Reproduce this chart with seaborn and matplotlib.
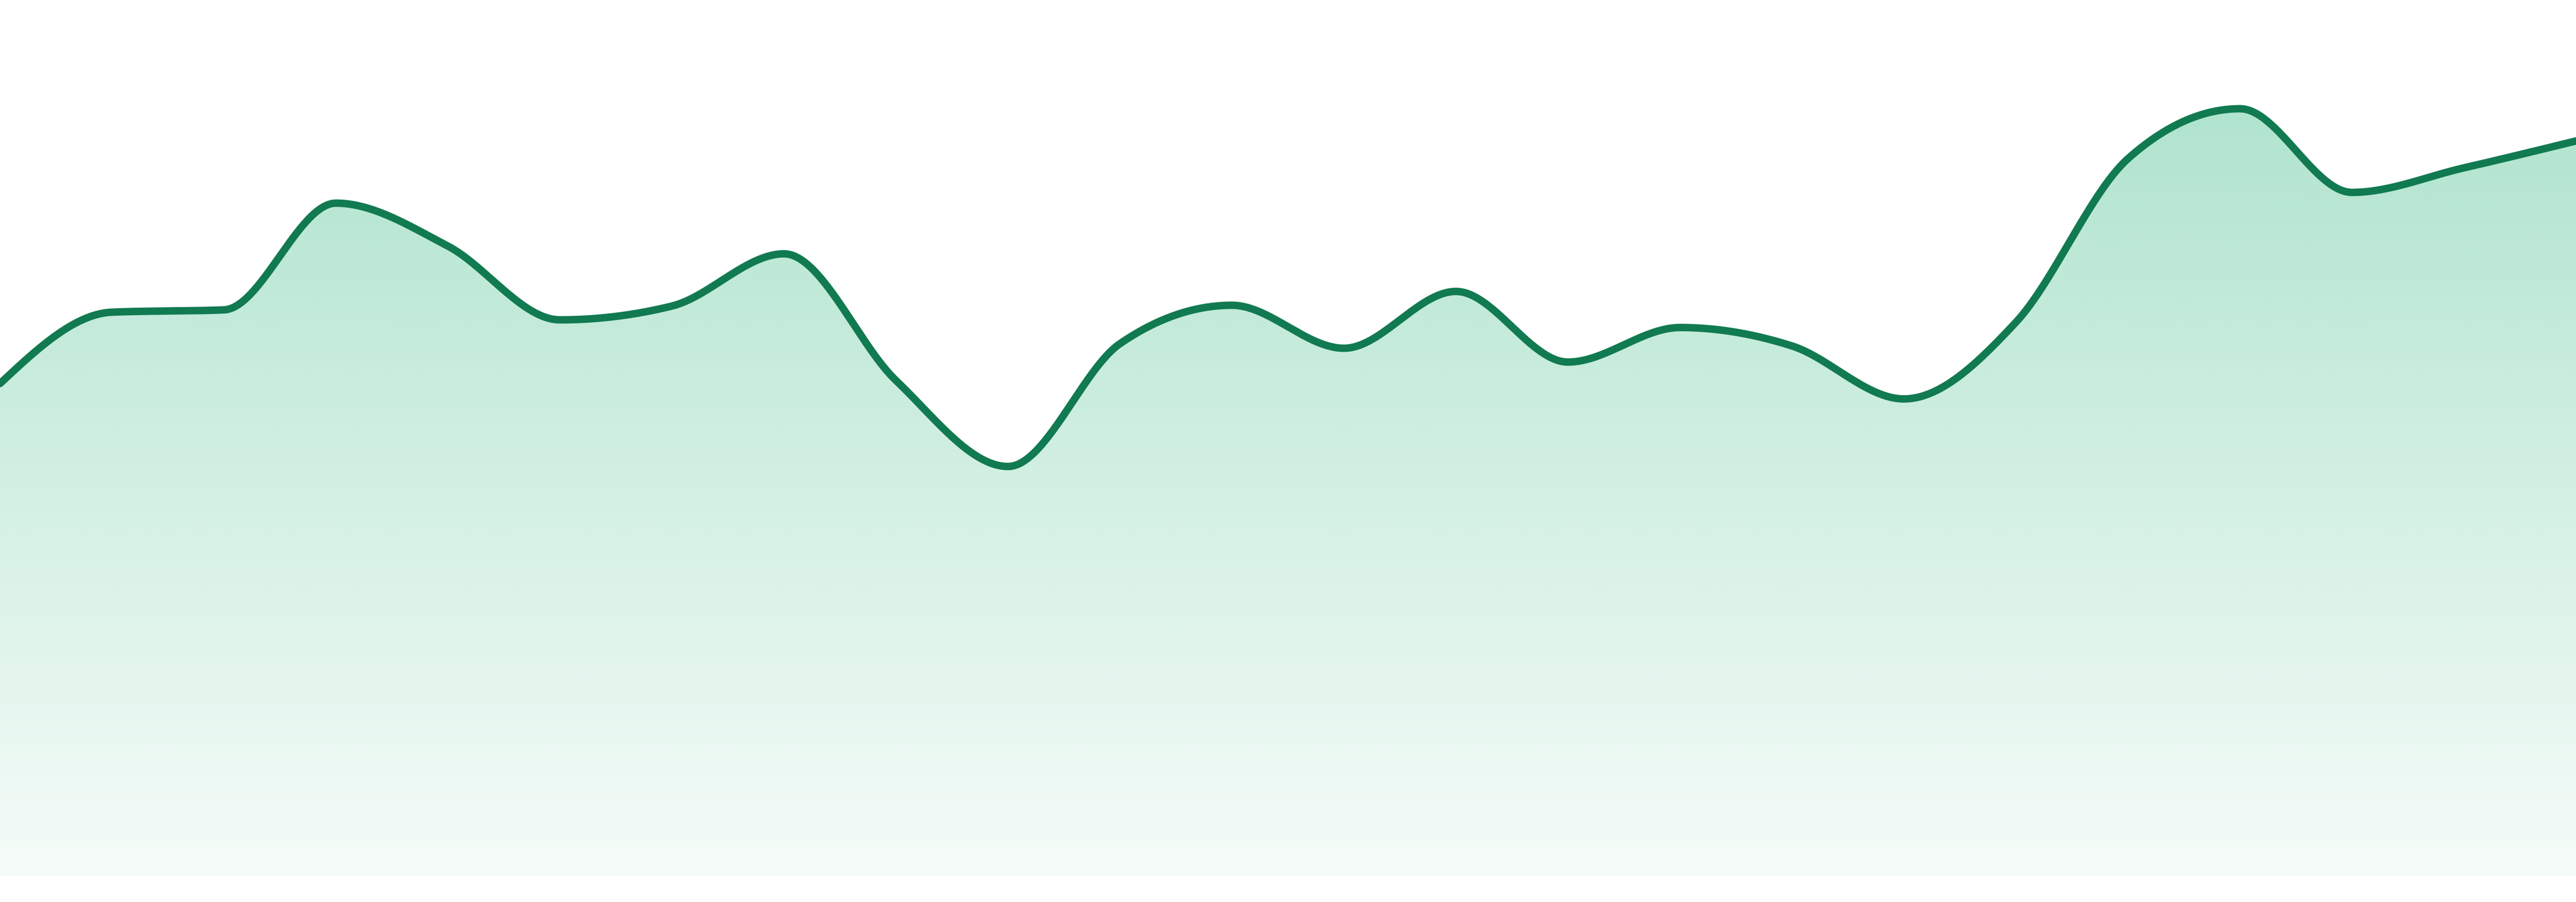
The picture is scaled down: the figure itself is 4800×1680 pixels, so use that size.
import numpy as np
import pandas as pd
import matplotlib
matplotlib.use("Agg")
import matplotlib.pyplot as plt
from matplotlib.colors import to_rgb
import seaborn as sns

# ---- data ----
periods = list(range(24))
values = [64.1, 73.4, 73.7, 87.6, 82.0, 72.4, 74.2, 81.0, 64.5, 53.3, 69.3, 74.3,
          68.7, 76.1, 66.9, 71.4, 69.0, 62.1, 72.1, 93.4, 99.9, 89.0, 92.2, 95.7]

line_color = "#117a50"
fill_color = "#2fb87e"
y_max = 114.06


def monotone_x(xs, ys, n=60):
    """Monotone cubic interpolation (same rule as d3.curveMonotoneX)."""
    xs = np.asarray(xs, float)
    ys = np.asarray(ys, float)
    h = np.diff(xs)
    s = np.diff(ys) / h
    m = len(xs)
    t = np.zeros(m)
    for i in range(1, m - 1):
        h0, h1 = h[i - 1], h[i]
        s0, s1 = s[i - 1], s[i]
        p = (s0 * h1 + s1 * h0) / (h0 + h1)
        t[i] = (np.sign(s0) + np.sign(s1)) * min(abs(s0), abs(s1), 0.5 * abs(p))
    t[0] = (3 * s[0] - t[1]) / 2
    t[-1] = (3 * s[-1] - t[-2]) / 2
    out_x, out_y = [], []
    for i in range(m - 1):
        u = np.linspace(0, 1, n, endpoint=(i == m - 2))
        dx = h[i]
        h00 = 2 * u**3 - 3 * u**2 + 1
        h10 = u**3 - 2 * u**2 + u
        h01 = -2 * u**3 + 3 * u**2
        h11 = u**3 - u**2
        out_x.append(xs[i] + u * dx)
        out_y.append(h00 * ys[i] + h10 * dx * t[i] + h01 * ys[i + 1] + h11 * dx * t[i + 1])
    return np.concatenate(out_x), np.concatenate(out_y)


sx, sy = monotone_x(periods, values)
curve = pd.DataFrame({"period": sx, "value": sy})

sns.set_style("white")
fig = plt.figure(figsize=(48, 16.8), dpi=100)
ax = fig.add_axes([0, 49 / 1680, 1, 1631 / 1680])

# gradient fill under the curve
poly = ax.fill_between(curve["period"], curve["value"], 0, facecolor="none", edgecolor="none")
r, g, b = to_rgb(fill_color)
alpha = np.linspace(0.045, 0.38, 256)
grad = np.zeros((256, 1, 4))
grad[:, 0, 0] = r
grad[:, 0, 1] = g
grad[:, 0, 2] = b
grad[:, 0, 3] = alpha
img = ax.imshow(grad, extent=[periods[0], periods[-1], 0, max(values)], origin="lower",
                aspect="auto", interpolation="bilinear", zorder=1)
img.set_clip_path(poly.get_paths()[0], transform=ax.transData)

sns.lineplot(data=curve, x="period", y="value", sort=False, estimator=None,
             color=line_color, linewidth=10, ax=ax, zorder=3)

ax.set_xlim(periods[0], periods[-1])
ax.set_ylim(0, y_max)
ax.set_axis_off()

fig.savefig("out.png", dpi=100, facecolor="white")
